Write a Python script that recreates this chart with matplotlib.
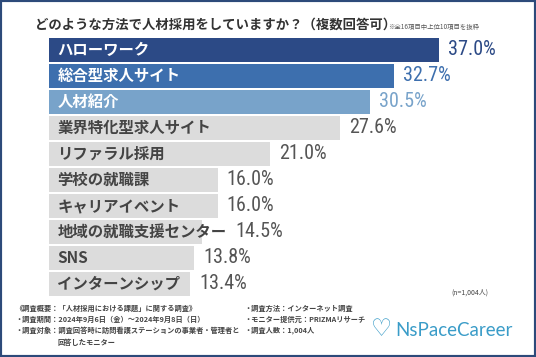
import matplotlib.pyplot as plt
from matplotlib import font_manager as fm
from matplotlib.patches import Rectangle
from matplotlib.transforms import ScaledTranslation

plt.rcParams['font.family'] = ['Noto Sans CJK JP', 'DejaVu Sans']

categories = ["ハローワーク", "総合型求人サイト", "人材紹介", "業界特化型求人サイト", "リファラル採用",
              "学校の就職課", "キャリアイベント", "地域の就職支援センター", "SNS", "インターンシップ"]
values = [37.0, 32.7, 30.5, 27.6, 21.0, 16.0, 16.0, 14.5, 13.8, 13.4]

bar_colors = ["#2c4a86", "#3d6fae", "#78a3ca"] + ["#dcdcdc"] * 7
name_colors = ["white"] * 3 + ["#444444"] * 7
value_colors = ["#2c4a86", "#3d6fae", "#78a3ca"] + ["#555555"] * 7

# narrow-ish font for the percentages
installed = {f.name for f in fm.fontManager.ttflist}
value_font = next((n for n in ["Roboto Condensed", "Liberation Sans Narrow", "Roboto",
                               "Liberation Sans"] if n in installed), "DejaVu Sans")

W, H = 536, 357
fig = plt.figure(figsize=(W / 100, H / 100), dpi=100)
fig.patch.set_facecolor("white")


def px(x, y):
    return x / W, 1 - y / H


# plot area: bars start at x=49, 10.54 px per percent
ax = fig.add_axes([49 / W, (H - 297) / H, (45 * 10.54) / W, 260 / H])
ax.barh(range(len(values)), values, height=0.92, color=bar_colors)
ax.set_xlim(0, 45)
ax.set_ylim(9.5, -0.5)
ax.axis("off")

name_off = ax.transData + ScaledTranslation(6 / 72, 0, fig.dpi_scale_trans)
val_off = ax.transData + ScaledTranslation(6.5 / 72, 0, fig.dpi_scale_trans)

name_texts = []
for i, name in enumerate(categories):
    t = ax.text(0, i, name, transform=name_off, va="center", ha="left",
                fontsize=11.1, fontweight="bold", color=name_colors[i])
    name_texts.append(t)

# percentage goes after the bar, or after the label if the label is longer
fig.canvas.draw()
renderer = fig.canvas.get_renderer()
inv = ax.transData.inverted()
for i, v in enumerate(values):
    bb = name_texts[i].get_window_extent(renderer)
    text_end = inv.transform((bb.x1, bb.y0))[0]
    ax.text(max(v, text_end), i, f"{v:.1f}%", transform=val_off, va="center", ha="left",
            fontsize=14.5, family=value_font, color=value_colors[i])

# title
fig.text(*px(35, 25), "どのような方法で人材採用をしていますか？（複数回答可）",
         fontsize=9.6, fontweight="bold", color="#333333", va="center", ha="left")
fig.text(*px(388, 27), "※全16項目中上位10項目を抜粋", fontsize=4.6, color="#555555",
         va="center", ha="left")

fig.text(*px(488, 293), "(n=1,004人)", fontsize=5, color="#444444", va="center", ha="right")

left_notes = ["《調査概要：「人材採用における課題」に関する調査》",
              "・調査期間：2024年9月6日（金）～2024年9月8日（日）",
              "・調査対象：調査回答時に訪問看護ステーションの事業者・管理者と"]
mid_notes = ["・調査方法：インターネット調査",
             "・モニター提供元：PRIZMAリサーチ",
             "・調査人数：1,004人"]
for k, s in enumerate(left_notes):
    fig.text(*px(15, 308 + k * 11), s, fontsize=5.2, fontweight="bold", color="#444444",
             va="center", ha="left")
fig.text(*px(58, 342), "回答したモニター", fontsize=5.2, fontweight="bold", color="#444444",
         va="center", ha="left")
for k, s in enumerate(mid_notes):
    fig.text(*px(244, 308 + k * 11), s, fontsize=5.2, fontweight="bold", color="#444444",
             va="center", ha="left")

# logo
fig.text(*px(371, 329), "♡", fontsize=17, color="#3a9cc8", family="DejaVu Sans",
         fontweight="bold", va="center", ha="left")
fig.text(*px(395, 330), "NsPaceCareer", fontsize=13.5, color="#3a9cc8", family="Lato",
         va="center", ha="left")

# frame
fig.patches.append(Rectangle((0, 0), 1, 1, transform=fig.transFigure, fill=False,
                             edgecolor="#2d4a7a", linewidth=3))

fig.savefig("out.png", dpi=100)
